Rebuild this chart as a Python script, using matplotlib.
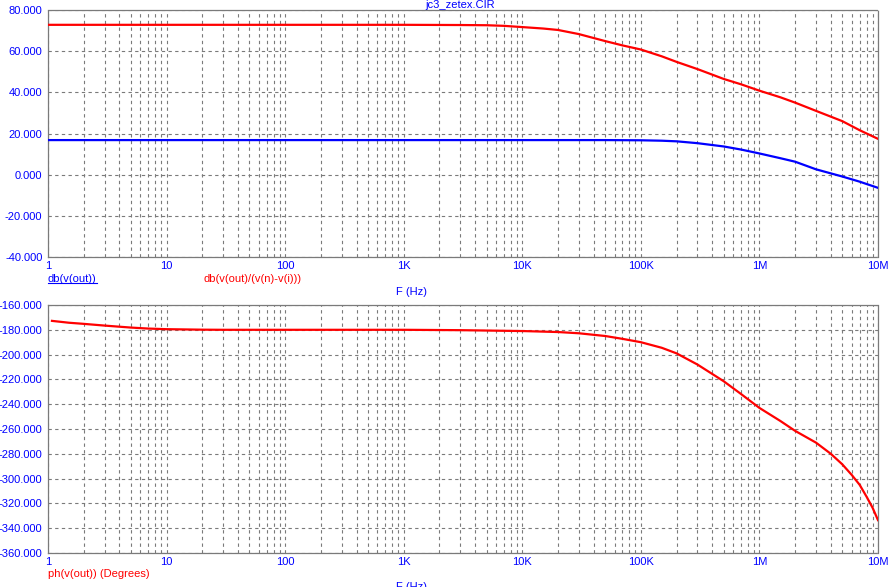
import matplotlib
matplotlib.use("Agg")
import matplotlib.pyplot as plt
from matplotlib.ticker import FixedLocator, FuncFormatter, LogLocator, NullFormatter
from matplotlib.lines import Line2D

plt.rcParams['font.family'] = ['Liberation Sans', 'DejaVu Sans']

# magnitude data (Hz, dB)
f_mag = [1, 1e3, 3e3, 5e3, 7e3, 1e4, 1.5e4, 2e4, 3e4, 5e4, 7e4, 1e5, 1.5e5, 2e5, 3e5, 5e5, 7e5,
         1e6, 1.5e6, 2e6, 3e6, 5e6, 7e6, 1e7]
db_loop = [72.8, 72.8, 72.7, 72.6, 72.3, 71.7, 71.0, 70.3, 68.3, 64.9, 62.8, 60.8, 57.5, 54.8,
           51.3, 46.5, 43.9, 40.8, 37.6, 35, 31, 26, 21.6, 17.4]
f_out = [1, 1e3, 1e4, 5e4, 1e5, 1.5e5, 2e5, 3e5, 5e5, 7e5, 1e6, 1.5e6, 2e6, 3e6, 5e6, 7e6, 1e7]
db_out = [16.8, 16.8, 16.8, 16.8, 16.7, 16.5, 16.2, 15.3, 13.7, 12.2, 10.3, 8.0, 6.3, 2.6,
          -0.9, -3.4, -6.4]

# phase data (Hz, degrees)
f_ph = [1.08, 1.5, 2, 3, 4, 5, 7, 10, 20, 30, 1e3, 3e3, 1e4, 2e4, 3e4, 5e4, 7e4, 1e5, 1.5e5,
        2e5, 3e5, 5e5, 7e5, 1e6, 1.5e6, 2e6, 3e6, 4e6, 5e6, 6e6, 7e6, 8e6, 9e6, 1e7]
ph_out = [-172.8, -174.3, -175.2, -176.6, -177.5, -178.2, -179, -179.5, -179.9, -180, -180,
          -180.3, -181, -181.8, -182.8, -185, -187.3, -190, -194.5, -199, -208, -221.5,
          -231.8, -243, -253.5, -261.5, -271, -280, -288.5, -297, -305, -314.5, -323.5, -333.5]

x_ticks = [1, 10, 100, 1e3, 1e4, 1e5, 1e6, 1e7]
x_labels = ['1', '10', '100', '1K', '10K', '100K', '1M', '10M']

blue = '#0000ff'
red = '#ff0000'
gridc = '#7a7a7a'

fig = plt.figure(figsize=(8.9, 5.87), dpi=100)
ax1 = fig.add_axes([48/890, 1-257/587, 830/890, 247/587])
ax2 = fig.add_axes([48/890, 1-553/587, 830/890, 248/587])

def style(ax, ylim, ystep):
    ax.set_xscale('log')
    ax.set_xlim(1, 1e7)
    ax.set_ylim(*ylim)
    ax.xaxis.set_major_locator(FixedLocator(x_ticks))
    ax.xaxis.set_major_formatter(FuncFormatter(lambda v, p: x_labels[x_ticks.index(v)] if v in x_ticks else ''))
    ax.xaxis.set_minor_locator(LogLocator(base=10, subs=range(2, 10), numticks=50))
    ax.xaxis.set_minor_formatter(NullFormatter())
    yt = list(range(ylim[0], ylim[1] + 1, ystep))
    ax.yaxis.set_major_locator(FixedLocator(yt))
    ax.yaxis.set_major_formatter(FuncFormatter(lambda v, p: '%.3f' % v))
    ax.tick_params(which='both', length=0, colors=blue, labelsize=8)
    ax.tick_params(axis='y', pad=4)
    ax.tick_params(axis='x', pad=3)
    ax.grid(True, which='both', axis='x', color=gridc, linestyle=(0, (3, 3)), linewidth=0.8)
    ax.grid(True, which='major', axis='y', color=gridc, linestyle=(0, (3, 3)), linewidth=0.8)
    for s in ax.spines.values():
        s.set_color(gridc)
        s.set_linestyle((0, (1, 1)))
        s.set_linewidth(0.9)

style(ax1, (-40, 80), 20)
style(ax2, (-360, -160), 20)

ax1.plot(f_mag, db_loop, color=red, linewidth=1.6, zorder=3)
ax1.plot(f_out, db_out, color=blue, linewidth=1.6, zorder=4)
ax2.plot(f_ph, ph_out, color=red, linewidth=1.6, zorder=3)

def px(x, y):
    return x / 890, 1 - y / 587

fig.text(*px(460, 5), 'jc3_zetex.CIR', color=blue, fontsize=8, ha='center', va='center')
t1 = fig.text(*px(48, 279), 'db(v(out))', color=blue, fontsize=8, ha='left', va='center')
fig.text(*px(203, 279), 'db(v(out)/(v(n)-v(i)))', color=red, fontsize=8, ha='left', va='center')
fig.text(*px(411, 292), 'F (Hz)', color=blue, fontsize=8, ha='center', va='center')
fig.text(*px(48, 574), 'ph(v(out)) (Degrees)', color=red, fontsize=8, ha='left', va='center')
fig.text(*px(411, 587), 'F (Hz)', color=blue, fontsize=8, ha='center', va='center')

# underline for the selected trace label
fig.canvas.draw()
bb = t1.get_window_extent()
uy = 1 - 283 / 587
fig.add_artist(Line2D([bb.x0 / 890, bb.x1 / 890], [uy, uy], color=blue, linewidth=0.8))

fig.savefig('out.png', dpi=100)
